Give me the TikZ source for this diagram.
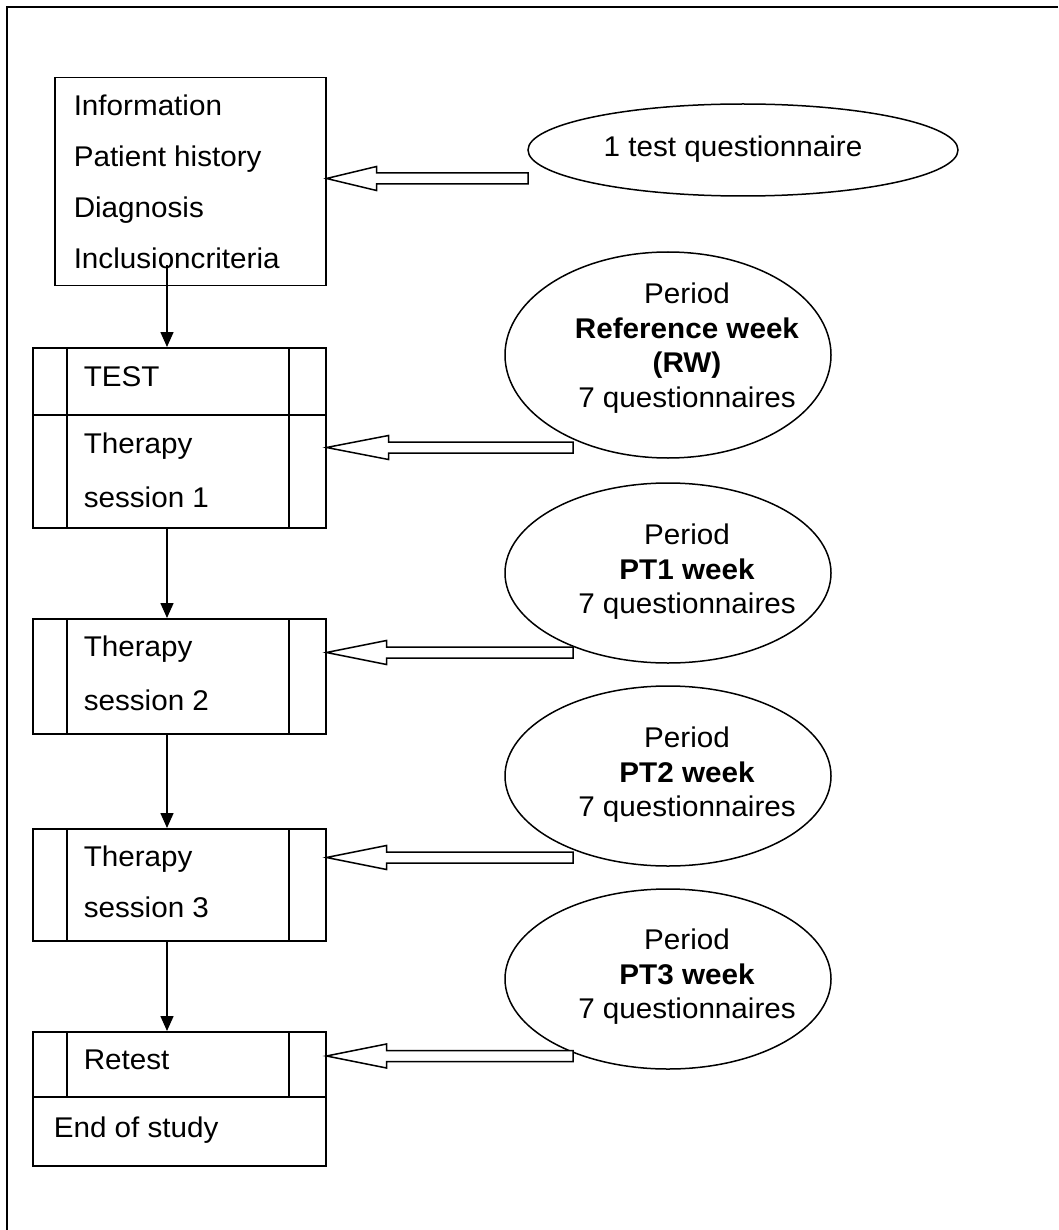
\documentclass[tikz,border=0pt]{standalone}
\usepackage{fontspec}
\setmainfont[FakeStretch=1.04]{Liberation Sans}
\usetikzlibrary{arrows.meta,calc,shapes.geometric}
\newcommand{\blockarrow}[3]{%
  \draw[hollowarrow] (#1) -- ($(#1)+(#3,-12)$) -- ($(#1)+(#3,-5.5)$) -- ($(#2)+(0,-5.5)$)
    -- ($(#2)+(0,5.5)$) -- ($(#1)+(#3,5.5)$) -- ($(#1)+(#3,12)$) -- cycle;}
\begin{document}
\begin{tikzpicture}[x=1pt,y=-1pt,line width=1.5pt,
  box/.style={draw,anchor=north west,inner sep=0pt,minimum width=293pt},
  txt/.style={anchor=base west,inner sep=0pt,font=\fontsize{28.5}{34.5}\selectfont},
  etxt/.style={align=center,inner sep=0pt,font=\fontsize{28.5}{34.5}\selectfont},
  ell/.style={draw,ellipse,inner sep=0pt},
  flow/.style={-{Triangle[width=13pt,length=15pt]}},
  hollowarrow/.style={draw,fill=white,line join=miter}]
\useasboundingbox (0,0) rectangle (1058,1230);
\fill[white] (0,0) rectangle (1058,1230);
\draw[line width=2pt] (1058,7.5) -- (7,7.5) -- (7,1230);

% info box
\node[box,minimum width=271pt,minimum height=208pt] (info) at (54,77) {};
\node[txt] (i1) at (73,116) {Information};
\node[txt] (i2) at (73,167) {Patient history};
\node[txt] (i3) at (73,218) {Diagnosis};
\node[txt] (i4) at (73,269) {Inclusioncriteria};

% session 1 box
\node[box,minimum height=180pt] (s1) at (32,347) {};
\draw (32,415) -- (325,415);
\draw (67,347) -- (67,527) (289,347) -- (289,527);
\node[txt] (s1a) at (83,386) {TEST};
\node[txt] (s1b) at (83,453) {Therapy};
\node[txt] (s1c) at (83,507) {session 1};

% session 2 box
\node[box,minimum height=115pt] (s2) at (32,618) {};
\draw (67,618) -- (67,733) (289,618) -- (289,733);
\node[txt] (s2b) at (83,656) {Therapy};
\node[txt] (s2c) at (83,710) {session 2};

% session 3 box
\node[box,minimum height=112pt] (s3) at (32,828) {};
\draw (67,828) -- (67,940) (289,828) -- (289,940);
\node[txt] (s3b) at (83,866) {Therapy};
\node[txt] (s3c) at (83,917) {session 3};

% retest box
\node[box,minimum height=134pt] (rt) at (32,1031) {};
\draw (32,1097) -- (325,1097);
\draw (67,1031) -- (67,1097) (289,1031) -- (289,1097);
\node[txt] (rta) at (83,1069) {Retest};
\node[txt] (rtb) at (53,1137) {End of study};

% ellipses
\node[ell,minimum width=430pt,minimum height=92pt] (e0) at (743,150) {};
\node[txt,anchor=base] (e0t) at (733,157) {1 test questionnaire};
\node[ell,minimum width=326pt,minimum height=206pt] (e1) at (668,355) {};
\node[etxt] (e1t) at (687,348) {Period\\\textbf{Reference week}\\\textbf{(RW)}\\7 questionnaires};
\node[ell,minimum width=326pt,minimum height=180pt] (e2) at (668,573) {};
\node[etxt] (e2t) at (687,572) {Period\\\textbf{PT1 week}\\7 questionnaires};
\node[ell,minimum width=326pt,minimum height=180pt] (e3) at (668,776) {};
\node[etxt] (e3t) at (687,775) {Period\\\textbf{PT2 week}\\7 questionnaires};
\node[ell,minimum width=326pt,minimum height=180pt] (e4) at (668,979) {};
\node[etxt] (e4t) at (687,977) {Period\\\textbf{PT3 week}\\7 questionnaires};

% flow arrows
\coordinate (c0) at (167,265);
\draw[flow] (c0) -- (c0 |- s1.north);
\draw[flow] (c0 |- s1.south) -- (c0 |- s2.north);
\draw[flow] (c0 |- s2.south) -- (c0 |- s3.north);
\draw[flow] (c0 |- s3.south) -- (c0 |- rt.north);

% hollow block arrows
\coordinate (p0) at (info.east |- 0,178.5);
\coordinate (q0) at (528,178.5);
\blockarrow{p0}{q0}{50}
\coordinate (p1) at (s1.east |- 0,447.5);
\coordinate (q1) at (573,447.5);
\blockarrow{p1}{q1}{62}
\coordinate (p2) at (s2.east |- 0,652.5);
\coordinate (q2) at (573,652.5);
\blockarrow{p2}{q2}{60}
\coordinate (p3) at (s3.east |- 0,857.5);
\coordinate (q3) at (573,857.5);
\blockarrow{p3}{q3}{60}
\coordinate (p4) at (rt.east |- 0,1056);
\coordinate (q4) at (573,1056);
\blockarrow{p4}{q4}{60}
\end{tikzpicture}
\end{document}
